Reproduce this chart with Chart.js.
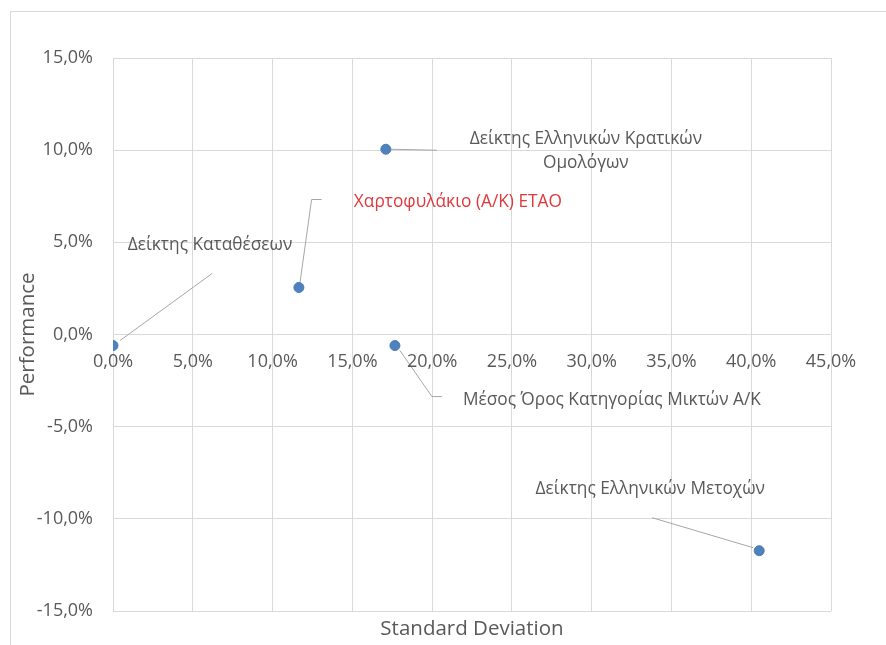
<!DOCTYPE html>
<html><head><meta charset="utf-8">
<script src="https://cdn.jsdelivr.net/npm/chart.js@4/dist/chart.umd.min.js"></script>
<style>html,body{margin:0;padding:0;background:#fff;overflow:hidden}#wrap{position:relative;width:886px;height:645px}</style>
</head><body><div id="wrap"><canvas id="c" width="886" height="645"></canvas></div>
<script>
// ---- data ----
const seriesNames = ['Δείκτης Καταθέσεων', 'Χαρτοφυλάκιο (Α/Κ) ΕΤΑΟ', 'Δείκτης Ελληνικών Κρατικών\nΟμολόγων', 'Μέσος Όρος Κατηγορίας Μικτών Α/Κ', 'Δείκτης Ελληνικών Μετοχών'];
const stdDev = [0.000, 0.1165, 0.171, 0.1767, 0.405];
const performance = [-0.006, 0.0255, 0.1005, -0.006, -0.1173];
const xTickValues = [0, 0.05, 0.10, 0.15, 0.20, 0.25, 0.30, 0.35, 0.40, 0.45];
const xTickLabels = ['0,0%', '5,0%', '10,0%', '15,0%', '20,0%', '25,0%', '30,0%', '35,0%', '40,0%', '45,0%'];
const yTickValues = [-0.15, -0.10, -0.05, 0, 0.05, 0.10, 0.15];
const yTickLabels = ['-15,0%', '-10,0%', '-5,0%', '0,0%', '5,0%', '10,0%', '15,0%'];
const xTitle = 'Standard Deviation';
const yTitle = 'Performance';

// ---- styles (label placement relative to each point, in px) ----
const labelColors = ['#595959', '#e0383c', '#595959', '#595959', '#595959'];
const labelLayout = [
  {dx: 97, dy: -100, align: 'center', leader: [[7, -5], [99, -72]]},
  {dx: 159, dy: -85, align: 'center', leader: [[1, -4], [12.7, -88], [22.7, -88]]},
  {dx: 200, dy: -10, align: 'center', leader: [[5, 0], [51, 1]]},
  {dx: 217, dy: 55, align: 'center', leader: [[5, 5], [37, 51], [47, 51]]},
  {dx: -109, dy: -62, align: 'center', leader: [[-107, -33], [-6, -3]]}
];
const FONT = '"Open Sans", "Noto Sans", sans-serif';
const TEXT = '#595959';
const GRID = '#d9d9d9';

const points = stdDev.map((x, i) => ({x: x, y: performance[i]}));

const overlay = {
  id: 'overlay',
  beforeDraw(chart) {
    const ctx = chart.ctx;
    ctx.save();
    ctx.strokeStyle = GRID; ctx.lineWidth = 1;
    ctx.strokeRect(10.5, 11.5, 1000, 1000);
    ctx.restore();
  },
  beforeDatasetsDraw(chart) {
    const ctx = chart.ctx;
    const meta = chart.getDatasetMeta(0);
    ctx.save();
    ctx.strokeStyle = '#a6a6a6'; ctx.lineWidth = 1;
    meta.data.forEach((el, i) => {
      const L = labelLayout[i].leader;
      ctx.beginPath();
      L.forEach((p, j) => {
        const px = el.x + p[0], py = el.y + p[1];
        if (j === 0) ctx.moveTo(px, py); else ctx.lineTo(px, py);
      });
      ctx.stroke();
    });
    ctx.restore();
  },
  afterDraw(chart) {
    const ctx = chart.ctx;
    const xs = chart.scales.x, ys = chart.scales.y, ca = chart.chartArea;
    const meta = chart.getDatasetMeta(0);
    ctx.save();
    // x tick labels along the zero line
    const y0 = ys.getPixelForValue(0);
    ctx.font = '18px ' + FONT; ctx.fillStyle = TEXT;
    ctx.textAlign = 'center'; ctx.textBaseline = 'middle';
    xs.ticks.forEach((t, i) => {
      ctx.fillText(xTickLabels[i], xs.getPixelForValue(t.value), y0 + 27);
    });
    // axis titles
    ctx.font = '20.5px ' + FONT;
    ctx.fillText(xTitle, (ca.left + ca.right) / 2, 629);
    ctx.save();
    ctx.translate(28, (ca.top + ca.bottom) / 2);
    ctx.rotate(-Math.PI / 2);
    ctx.fillText(yTitle, 0, 0);
    ctx.restore();
    // data labels
    ctx.font = '17.3px ' + FONT;
    meta.data.forEach((el, i) => {
      const lay = labelLayout[i];
      ctx.fillStyle = labelColors[i];
      ctx.textAlign = lay.align;
      const lines = seriesNames[i].split('\n');
      lines.forEach((ln, k) => ctx.fillText(ln, el.x + lay.dx, el.y + lay.dy + k * 24));
    });
    ctx.restore();
  }
};

new Chart(document.getElementById('c'), {
  type: 'scatter',
  data: {
    datasets: [{
      data: points,
      backgroundColor: '#4f81bd',
      borderColor: '#4a7ab4',
      borderWidth: 1,
      pointRadius: 5,
      pointHoverRadius: 5
    }]
  },
  options: {
    responsive: false,
    animation: false,
    events: [],
    layout: {padding: {left: 0, top: 58, right: 55, bottom: 34}},
    plugins: {legend: {display: false}, tooltip: {enabled: false}},
    scales: {
      x: {
        type: 'linear', min: 0, max: 0.45,
        afterBuildTicks(s) { s.ticks = xTickValues.map(v => ({value: v})); },
        afterFit(s) { s.height = 0; },
        grid: {color: GRID, drawTicks: false, lineWidth: 1},
        border: {display: false},
        ticks: {display: false}
      },
      y: {
        type: 'linear', min: -0.15, max: 0.15,
        afterBuildTicks(s) { s.ticks = yTickValues.map(v => ({value: v})); },
        afterFit(s) { s.width = 113; },
        grid: {color: GRID, drawTicks: false, lineWidth: 1},
        border: {display: false},
        ticks: {
          padding: 20, color: TEXT, font: {family: FONT, size: 18},
          callback: (v, i) => yTickLabels[i]
        }
      }
    }
  },
  plugins: [overlay]
});
</script></body></html>
